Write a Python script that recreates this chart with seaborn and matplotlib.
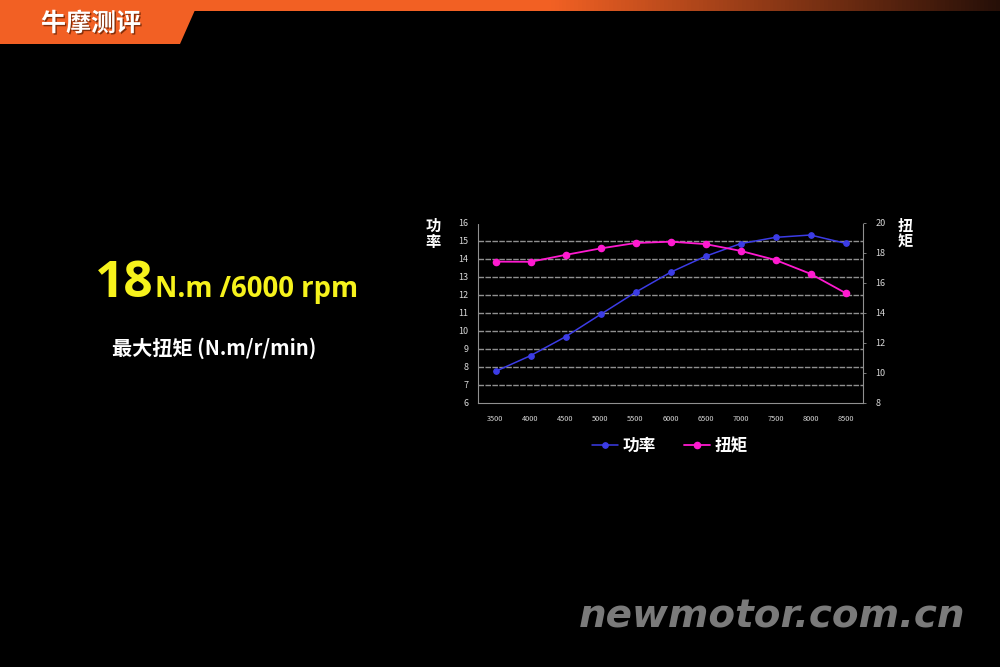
import numpy as np
import pandas as pd
import seaborn as sns
import matplotlib.pyplot as plt
from matplotlib.patches import Polygon
import matplotlib.patheffects as pe

#--Data
rpm = ['3500', '4000', '4500', '5000', '5500', '6000', '6500', '7000', '7500', '8000', '8500']
power = [7.75, 8.62, 9.67, 10.91, 12.14, 13.25, 14.14, 14.84, 15.19, 15.32, 14.86]
torque = [17.41, 17.40, 17.86, 18.29, 18.65, 18.74, 18.58, 18.13, 17.52, 16.60, 15.32]
power_ticks = list(range(6, 17))
torque_ticks = [8, 10, 12, 14, 16, 18, 20]

df = pd.DataFrame({'rpm': rpm, 'power': power, 'torque': torque})

sns.set_style('dark')
plt.rcParams['font.family'] = ['Noto Sans CJK SC', 'DejaVu Sans']

blue = '#3c3ce6'
pink = '#ff1ad0'
grid_c = '#909090'
tick_c = '#d8d8d8'

fig = plt.figure(figsize=(10, 6.67), dpi=100)
fig.patch.set_facecolor('black')

#--Header bar with gradient
hdr = fig.add_axes([0, 1 - 11 / 667, 1, 11 / 667])
grad = np.ones((1, 256, 3))
t = np.linspace(0, 1, 256)
fade = np.clip((t - 0.55) / 0.45, 0, 1)
start = np.array([0.95, 0.38, 0.14])
end = np.array([0.15, 0.06, 0.03])
grad[0] = start[None, :] * (1 - fade[:, None]) + end[None, :] * fade[:, None]
hdr.imshow(grad, aspect='auto', extent=[0, 1, 0, 1])
hdr.axis('off')

tab = Polygon([[0, 1 - 10 / 667], [195 / 1000, 1 - 10 / 667], [180 / 1000, 1 - 44 / 667], [0, 1 - 44 / 667]],
              closed=True, transform=fig.transFigure, facecolor='#f26024', edgecolor='none')
fig.patches.append(tab)
fig.text(91 / 1000, 1 - 24 / 667, '牛摩测评', color='white', fontsize=18, fontweight='bold',
         ha='center', va='center',
         path_effects=[pe.withSimplePatchShadow(offset=(1, -1), shadow_rgbFace='#7a2a08', alpha=0.9)])

#--Headline numbers
fig.text(95 / 1000, 1 - 297 / 667, '18', color='#f6f21c', fontsize=37, fontweight='bold',
         family='Open Sans', ha='left', va='baseline')
fig.text(155 / 1000, 1 - 297 / 667, 'N.m /6000 rpm', color='#f6f21c', fontsize=19.8, fontweight='bold',
         family='Open Sans', ha='left', va='baseline')
fig.text(112 / 1000, 1 - 348 / 667, '最大扭矩 (N.m/r/min)', color='white', fontsize=14.5,
         fontweight='bold', ha='left', va='center')

#--Chart
ax = fig.add_axes([0.478, 0.396, 0.385, 0.27])
ax.set_facecolor('black')
sns.pointplot(data=df, x='rpm', y='power', color=blue, markers='o', markersize=4,
              linewidth=1.1, ax=ax)
ax2 = ax.twinx()
sns.pointplot(data=df, x='rpm', y='torque', color=pink, markers='o', markersize=4.5,
              linewidth=1.3, ax=ax2)

ax.set_xlim(-0.5, len(rpm) - 0.5)
ax.set_ylim(6, 16)
ax2.set_ylim(8, 20)
ax.set_yticks(power_ticks)
ax2.set_yticks(torque_ticks)
ax.set_xlabel('')
ax.set_ylabel('')
ax2.set_ylabel('')

for a in (ax, ax2):
    a.grid(False)
    for s in a.spines.values():
        s.set_visible(False)

ax.spines['left'].set_visible(True)
ax.spines['bottom'].set_visible(True)
ax2.spines['right'].set_visible(True)
for s in (ax.spines['left'], ax.spines['bottom'], ax2.spines['right']):
    s.set_color(grid_c)
    s.set_linewidth(0.8)
    s.set_linestyle((0, (2, 1)))

for y in power_ticks[1:-1]:
    ax.axhline(y, color=grid_c, lw=1.0, ls=(0, (4, 1)), zorder=0)

ax.tick_params(axis='y', colors=tick_c, labelsize=6.5, length=0, pad=7)
ax.tick_params(axis='x', colors=tick_c, labelsize=5.3, length=0, pad=9)
ax.set_xticks(np.arange(-0.5, len(rpm)), minor=True)
ax.tick_params(axis='x', which='minor', length=2, color=grid_c, width=0.6)
ax2.tick_params(axis='y', colors=tick_c, labelsize=6.5, length=2, width=0.6, pad=7)
ax2.tick_params(axis='y', color=grid_c)

fig.text(433 / 1000, 1 - 234 / 667, '功\n率', color='white', fontsize=11, fontweight='bold',
         ha='center', va='center', linespacing=1.0)
fig.text(905 / 1000, 1 - 234 / 667, '扭\n矩', color='white', fontsize=11, fontweight='bold',
         ha='center', va='center', linespacing=1.0)

#--Legend
handles = [ax.lines[0], ax2.lines[0]]
leg = fig.legend(handles, ['功率', '扭矩'], loc='center', bbox_to_anchor=(670 / 1000, 1 - 446 / 667),
                 ncol=2, frameon=False, handlelength=1.55, columnspacing=1.65, handletextpad=0.3,
                 prop={'family': 'Noto Sans CJK SC', 'weight': 'bold', 'size': 12})
for txt in leg.get_texts():
    txt.set_color('white')

#--Watermark
fig.text(965 / 1000, 1 - 617 / 667, 'newmotor.com.cn', color='#7a7a7a', fontsize=28,
         fontweight='bold', style='italic', family='DejaVu Sans', ha='right', va='center')

fig.savefig('out.png', dpi=100, facecolor='black')
